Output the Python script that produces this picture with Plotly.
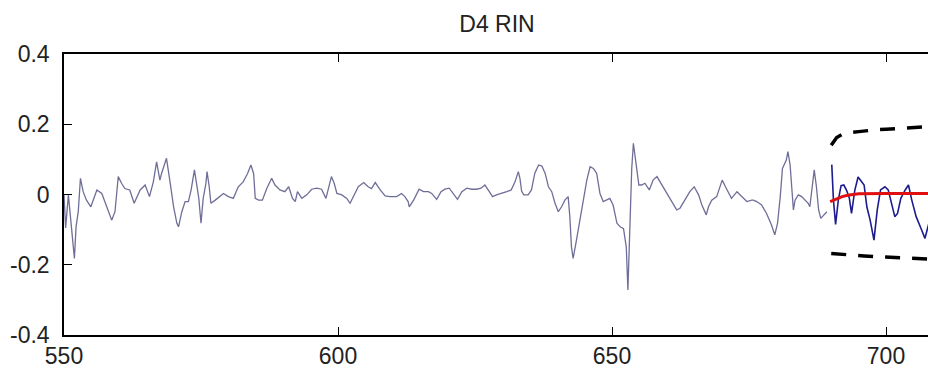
import plotly.graph_objects as go

# Historical series (gray-purple), vertices
hist_x = [550.0, 550.3, 550.8, 551.3, 551.7, 551.9, 552.2, 552.6, 553.0, 553.5, 554.1, 554.9,
          556.0, 556.9, 557.8, 558.7, 559.3, 559.9, 560.5, 561.1, 562.0, 562.8, 563.9, 564.8,
          565.6, 566.3, 566.9, 567.5, 567.8, 568.7, 569.3, 570.0, 570.6, 570.9, 571.5, 572.1,
          572.7, 573.2, 573.8, 574.2, 574.6, 575.0, 575.4, 575.9, 576.1, 576.5, 576.8, 577.6,
          578.5, 579.1, 580.0, 580.9, 581.8, 582.7, 583.5, 584.1, 584.6, 584.9, 585.5, 586.2,
          587.0, 587.9, 588.5, 589.4, 590.3, 591.0, 591.7, 592.2, 592.6, 593.4, 594.3, 595.2,
          596.1, 597.0, 597.8, 598.4, 598.8, 599.3, 599.8, 600.7, 601.6, 602.2, 603.1, 603.7,
          604.7, 605.5, 606.1, 606.8, 607.7, 608.6, 609.5, 610.7, 611.6, 612.2, 612.8, 613.0,
          613.8, 614.8, 615.6, 616.5, 617.1, 618.0, 618.8, 619.5, 620.3, 621.0, 621.8, 622.6,
          623.5, 624.4, 625.3, 626.1, 626.8, 627.4, 628.2, 628.9, 629.9, 630.8, 631.6, 632.3,
          632.9, 633.2, 633.5, 633.9, 634.7, 635.3, 635.9, 636.6, 637.2, 637.8, 638.4, 639.0,
          639.6, 640.2, 640.8, 641.4, 642.0, 642.3, 642.6, 642.9, 643.4, 644.2, 644.8, 645.4,
          646.0, 646.6, 647.2, 647.8, 648.4, 649.0, 649.6, 650.2, 650.9, 651.5, 652.1, 652.6,
          652.8, 652.9, 653.3, 653.6, 653.9, 654.2, 654.5, 654.9, 655.4, 656.0, 656.8, 657.5,
          658.2, 659.1, 660.0, 660.9, 661.8, 662.4, 663.3, 664.2, 665.0, 665.8, 666.4, 667.2,
          667.6, 668.2, 669.1, 670.1, 670.7, 671.8, 672.8, 673.7, 674.6, 675.5, 675.8, 676.4,
          677.3, 678.2, 679.1, 679.7, 680.2, 680.7, 681.1, 681.8, 682.1, 682.5, 682.8, 683.1,
          683.4, 684.0, 684.6, 685.2, 685.8, 686.1, 686.4, 686.9, 687.3, 687.7, 688.1, 688.6,
          689.2]
hist_y = [0.0, -0.095, -0.001, -0.09, -0.149, -0.182, -0.092, -0.049, 0.046, 0.008, -0.016, -0.035,
          0.013, 0.003, -0.035, -0.073, -0.049, 0.051, 0.032, 0.017, 0.013, -0.025, 0.013, 0.027,
          -0.006, 0.036, 0.093, 0.041, 0.06, 0.103, 0.041, -0.035, -0.082, -0.092, -0.049, -0.02,
          -0.02, 0.013, 0.07, 0.032, -0.011, -0.082, -0.011, 0.032, 0.065, 0.022, -0.025, -0.016,
          -0.006, 0.003, -0.006, -0.011, 0.022, 0.036, 0.06, 0.084, 0.06, -0.011, -0.016, -0.016,
          0.017, 0.046, 0.027, 0.013, 0.008, 0.022, -0.011, -0.02, 0.008, -0.011, -0.001, 0.015,
          0.018, 0.015, -0.011, 0.022, 0.051, 0.032, 0.003, -0.001, -0.011, -0.025, 0.003, 0.022,
          0.034, 0.022, 0.017, 0.034, 0.013, -0.004, -0.006, -0.006, 0.003, -0.006, -0.02, -0.035,
          -0.016, 0.015, 0.008, 0.008, 0.003, -0.014, 0.008, 0.015, 0.018, 0.003, -0.014, 0.008,
          0.018, 0.015, 0.015, 0.018, 0.027, 0.013, -0.006, -0.001, 0.003, 0.008, 0.013, 0.036,
          0.065, 0.046, 0.01, -0.001, -0.001, 0.013, 0.06, 0.084, 0.081, 0.06, 0.022, 0.008,
          -0.025, -0.049, -0.035, -0.016, -0.006, -0.063, -0.149, -0.182, -0.14, -0.063, -0.016, 0.041,
          0.079, 0.074, 0.06, 0.003, -0.02, -0.016, -0.011, -0.03, -0.082, -0.092, -0.097, -0.149,
          -0.215, -0.272, -0.073, 0.074, 0.146, 0.11, 0.08, 0.027, 0.027, 0.032, 0.013, 0.041,
          0.051, 0.027, 0.003, -0.02, -0.044, -0.039, -0.016, 0.008, 0.022, -0.001, -0.03, -0.058,
          -0.035, -0.016, -0.006, 0.041, 0.022, -0.011, 0.008, -0.006, -0.02, -0.016, -0.016, -0.02,
          -0.03, -0.054, -0.087, -0.115, -0.082, -0.006, 0.074, 0.098, 0.122, 0.084, 0.032, -0.044,
          -0.016, -0.001, -0.006, -0.016, -0.025, -0.035, 0.003, 0.07, 0.022, -0.044, -0.068, -0.058,
          -0.049]

# Actual values in the forecast window (blue)
test_x = [690.1, 690.4, 690.8, 691.3, 691.8, 692.3, 692.8, 693.3, 693.7, 694.3, 694.9, 695.6,
          696.0, 696.5, 697.1, 697.8, 698.4, 699.0, 699.8, 700.4, 701.0, 701.6, 702.1, 702.7,
          703.5, 704.1, 704.7, 705.5, 706.5, 707.1, 707.5, 708.2]
test_y = [0.085, -0.015, -0.085, -0.015, 0.025, 0.027, 0.012, -0.01, -0.054, 0.012, 0.05, 0.036,
          0.027, -0.035, -0.073, -0.13, -0.044, 0.013, 0.022, 0.013, -0.025, -0.063, -0.054, -0.011,
          0.013, 0.027, -0.016, -0.063, -0.101, -0.125, -0.101, -0.06]

# Forecast mean (red)
fc_x = [689.8, 691, 692, 693, 695, 700, 705, 710]
fc_y = [-0.02, -0.012, -0.006, -0.002, 0.002, 0.003, 0.003, 0.003]

# Forecast bounds (black dashed)
up_x = [690, 690.5, 691, 692, 693, 694, 695, 696, 698, 700, 702, 704, 706, 708, 710]
up_y = [0.14, 0.152, 0.162, 0.171, 0.175, 0.177, 0.179, 0.181, 0.184, 0.186, 0.188, 0.19, 0.192, 0.194, 0.195]
lo_x = [690, 692, 694, 696, 698, 700, 702, 704, 706, 708, 710]
lo_y = [-0.168, -0.171, -0.173, -0.175, -0.177, -0.178, -0.179, -0.18, -0.182, -0.184, -0.185]

x_ticks = [550, 600, 650, 700]
y_ticks = [-0.4, -0.2, 0, 0.2, 0.4]
y_tick_text = ["-0.4", "-0.2", "0", "0.2", "0.4"]

FONT = "Liberation Sans, Arial, sans-serif"

fig = go.Figure()
fig.add_trace(go.Scatter(x=hist_x, y=hist_y, mode="lines",
                         line=dict(color="#6f6e98", width=1.3), showlegend=False))
fig.add_trace(go.Scatter(x=test_x, y=test_y, mode="lines",
                         line=dict(color="#1c1c8e", width=1.6), showlegend=False))
fig.add_trace(go.Scatter(x=fc_x, y=fc_y, mode="lines",
                         line=dict(color="#e01010", width=3), showlegend=False))
fig.add_trace(go.Scatter(x=up_x, y=up_y, mode="lines",
                         line=dict(color="black", width=3.5, dash="15px,12px"), showlegend=False))
fig.add_trace(go.Scatter(x=lo_x, y=lo_y, mode="lines",
                         line=dict(color="black", width=3.5, dash="15px,12px"), showlegend=False))

fig.update_layout(
    width=928, height=370, autosize=False,
    margin=dict(l=64, r=0, t=54, b=35, pad=0, autoexpand=False),
    paper_bgcolor="white", plot_bgcolor="white",
    font=dict(family=FONT, size=23, color="#222222"),
    title=dict(text="D4 RIN", x=497 / 928, xref="container", xanchor="center",
               y=1 - 24 / 370, yref="container", yanchor="middle",
               font=dict(family=FONT, size=23, color="#222222")),
)
fig.update_xaxes(range=[550, 707.66], tickvals=x_ticks, ticks="inside", ticklen=8,
                 tickwidth=1.3, tickcolor="black", showline=True, linecolor="black",
                 linewidth=1.5, mirror="ticks", showgrid=False, zeroline=False,
                 ticklabelstandoff=0, automargin=False)
fig.update_yaxes(range=[-0.4, 0.4], tickvals=y_ticks, ticktext=y_tick_text,
                 ticks="inside", ticklen=8, tickwidth=1.3, tickcolor="black",
                 showline=True, linecolor="black", linewidth=1.5, mirror=False,
                 showgrid=False, zeroline=False, ticklabelstandoff=8, automargin=False)

fig.write_html("out.html", config={"displayModeBar": False},
               post_script="document.body.style.margin='0';document.body.style.overflow='hidden';")
